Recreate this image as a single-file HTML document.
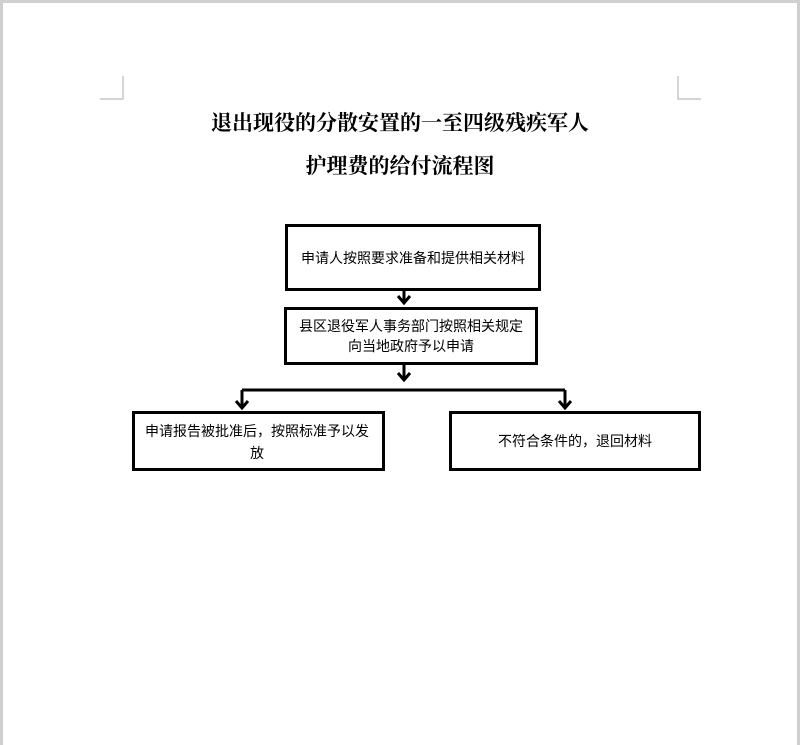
<!DOCTYPE html>
<html><head><meta charset="utf-8"><style>
html,body{margin:0;padding:0}
body{width:800px;height:745px;background:#d0d0d0;position:relative;overflow:hidden}
.page{position:absolute;left:3px;top:3px;width:794px;height:742px;background:#fff}
.t{position:absolute;left:0;width:800px;text-align:center;font-family:"Liberation Serif","Noto Serif CJK SC",serif;font-weight:bold;font-size:21px;color:#000}
.box{position:absolute;border:3px solid #000;box-sizing:border-box;font-family:"Liberation Sans","Noto Sans CJK SC",sans-serif;font-size:14px;color:#000;display:flex;align-items:center;justify-content:center;text-align:center;line-height:20px}
</style></head><body>
<div class="page"></div>
<svg width="800" height="745" style="position:absolute;left:0;top:0">
<path d="M123 76V99H100 M678 76V99H701" stroke="#bbb" stroke-width="1.2" fill="none"/>
<g stroke="#000" stroke-width="3" fill="none">
<path d="M404 291V303 M398 296L404 303L410 296"/>
<path d="M404 364V380 M398 373L404 380L410 373"/>
<path d="M242 390H565"/>
<path d="M242 390V408 M236 401L242 408L248 401"/>
<path d="M565 390V408 M559 401L565 408L571 401"/>
</g>
</svg>
<div class="t" style="top:107px">退出现役的分散安置的一至四级残疾军人</div>
<div class="t" style="top:150px">护理费的给付流程图</div>
<div class="box" style="left:285px;top:224px;width:256px;height:67px">申请人按照要求准备和提供相关材料</div>
<div class="box" style="left:284px;top:307px;width:254px;height:58px">县区退役军人事务部门按照相关规定<br>向当地政府予以申请</div>
<div class="box" style="left:132px;top:411px;width:253px;height:60px;justify-content:flex-start;text-align:left;padding-left:10px">申请报告被批准后，按照标准予以发<br>&nbsp;&nbsp;&nbsp;&nbsp;&nbsp;&nbsp;&nbsp;&nbsp;&nbsp;&nbsp;&nbsp;&nbsp;&nbsp;&nbsp;&nbsp;&nbsp;&nbsp;&nbsp;&nbsp;&nbsp;&nbsp;&nbsp;&nbsp;&nbsp;&nbsp;&nbsp;&nbsp;&nbsp;&nbsp;&nbsp;&nbsp;&nbsp;&nbsp;&nbsp;&nbsp;&nbsp;&nbsp;&nbsp;&nbsp;&nbsp;&nbsp;&nbsp;&nbsp;&nbsp;&nbsp;&nbsp;&nbsp;&nbsp;&nbsp;&nbsp;&nbsp;&nbsp;&nbsp;&nbsp;&nbsp;&nbsp;&nbsp;&nbsp;</div>
<div style="position:absolute;left:250px;top:443px;font-family:'Liberation Sans','Noto Sans CJK SC',sans-serif;font-size:14px">放</div>
<div class="box" style="left:449px;top:411px;width:252px;height:60px">不符合条件的，退回材料</div>
</body></html>
